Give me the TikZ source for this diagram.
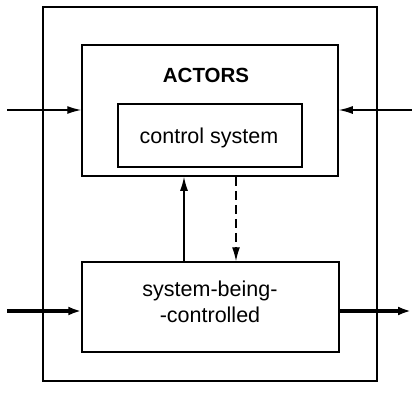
\documentclass[tikz,border=0pt]{standalone}
\usepackage{fontspec}
\setmainfont{Liberation Sans}
\usetikzlibrary{arrows.meta}
\begin{document}
\begin{tikzpicture}[x=1pt,y=-1pt,
  box/.style={draw,line width=1.5pt,inner sep=0pt},
  lbl/.style={font=\fontsize{21.5}{26}\selectfont,align=center},
  flow/.style={line width=1.4pt,-{Latex[length=14pt,width=8pt]}},
  heavy/.style={line width=3.2pt,-{Latex[length=13pt,width=9pt]}}]
\useasboundingbox (0,0) rectangle (412,392);
% outer boundary
\draw[line width=1.5pt] (43,7) rectangle (377,381);
% actors and the control system inside them
\node[box,minimum width=256pt,minimum height=131pt] (act) at (210,110.5) {};
\node[lbl,font=\fontsize{20.5}{25}\selectfont\bfseries] (actl) at (206,75) {ACTORS};
\node[box,minimum width=184pt,minimum height=63pt] (cs) at (210,135.5) {};
\node[lbl] (csl) at (209,138) {control system};
% system being controlled
\node[box,minimum width=257pt,minimum height=90pt] (sbc) at (210.5,307) {};
\node[lbl] (sbcl) at (210,302) {system-being-\\-controlled};
% free ends of the external connectors
\coordinate (inA) at (7,110);
\coordinate (inB) at (412,110);
\coordinate (inC) at (7,311);
\coordinate (outC) at (411,311);
% connectors
\draw[flow] (inA) -- (inA -| act.west);
\draw[flow] (inB) -- (inB -| act.east);
\draw[heavy] (inC) -- (inC -| sbc.west);
\draw[heavy] (outC -| sbc.east) -- (outC);
\draw[flow] (184,0 |- sbc.north) -- (184,0 |- act.south);
\draw[flow,dashed,dash pattern=on 9pt off 5pt] (236,0 |- act.south) -- (236,0 |- sbc.north);
\end{tikzpicture}
\end{document}
